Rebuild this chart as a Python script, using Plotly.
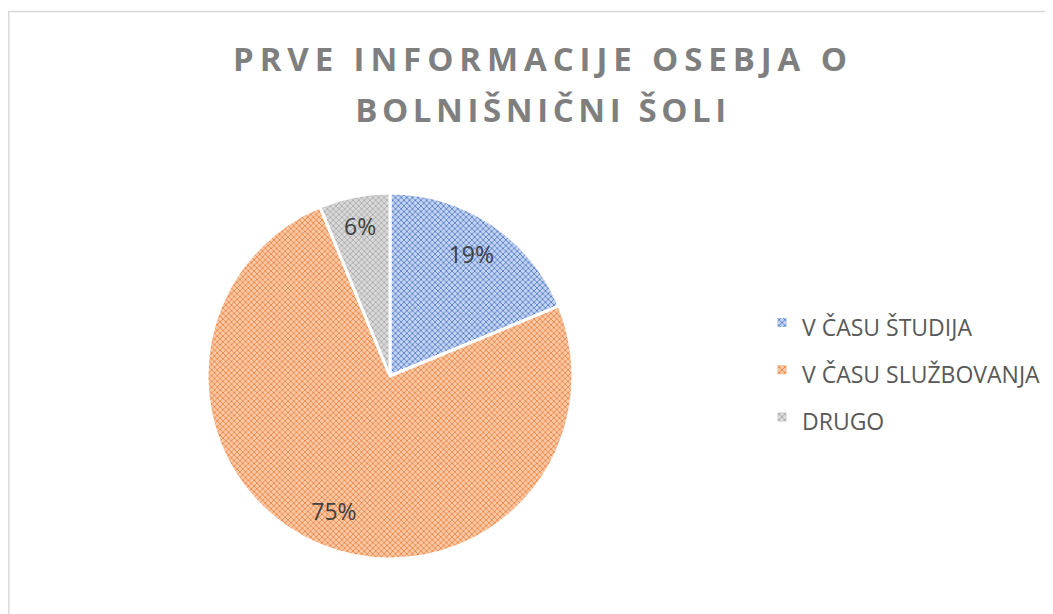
import plotly.graph_objects as go

# ---- data ----
categories = ["V ČASU ŠTUDIJA", "V ČASU SLUŽBOVANJA", "DRUGO"]
shares = [18.75, 75.0, 6.25]
title_lines = ["PRVE INFORMACIJE OSEBJA O", "BOLNIŠNIČNI ŠOLI"]

# ---- style ----
slice_colors = ["#4472C4", "#ED7D31", "#A5A5A5"]
slice_tints = ["#c5d4f0", "#f8c9a9", "#d9d9d9"]

W, H = 1053, 614
cx, cy, r = 382, 368, 183
dom_x = [(cx - r) / W, (cx + r) / W]
dom_y = [(H - cy - r) / H, (H - cy + r) / H]


def span(t, size, extra=""):
    return f'<span style="font-size:{size}px;{extra}">{t}</span>'


legend_labels = [span(c, 23) for c in categories]
title_text = (span(title_lines[0], 33, "letter-spacing:5.9px") + "<br>"
              + span(title_lines[1], 33, "letter-spacing:4.6px"))

fig = go.Figure()
fig.add_trace(go.Pie(
    labels=legend_labels,
    values=shares,
    sort=False,
    direction="clockwise",
    rotation=0,
    domain=dict(x=dom_x, y=dom_y),
    marker=dict(
        colors=slice_tints,
        line=dict(color="white", width=3),
        pattern=dict(shape=["x", "x", "x"], fgcolor=slice_colors,
                     bgcolor=slice_tints, size=4, solidity=0.35,
                     fillmode="replace"),
    ),
    textinfo="none",
    hoverinfo="skip",
))
fig.add_trace(go.Pie(
    labels=legend_labels,
    values=shares,
    sort=False,
    direction="clockwise",
    rotation=0,
    hole=0.6,
    domain=dict(x=dom_x, y=dom_y),
    marker=dict(colors=["rgba(0,0,0,0)"] * 3, line=dict(width=0)),
    texttemplate="%{percent:.0%}",
    textposition="inside",
    insidetextorientation="horizontal",
    textfont=dict(family="Open Sans", size=23, color="#404040"),
    showlegend=False,
    hoverinfo="skip",
))

fig.update_layout(
    width=W, height=H,
    margin=dict(l=0, r=0, t=0, b=0),
    paper_bgcolor="white",
    plot_bgcolor="white",
    title=dict(
        text=title_text,
        x=535 / W, xanchor="center",
        y=1 - 63 / H, yanchor="top",
        font=dict(family="Open Sans", size=39, color="#7f7f7f", weight="bold"),
    ),
    legend=dict(
        x=754 / W, xanchor="left",
        y=1 - 286 / H, yanchor="top",
        font=dict(family="Open Sans", size=34, color="#595959"),
        bgcolor="rgba(0,0,0,0)",
    ),
    shapes=[dict(type="rect", xref="paper", yref="paper",
                 x0=0.8 / W, x1=1.02, y0=-0.02, y1=1 - 3.5 / H,
                 line=dict(color="#d9d9d9", width=1.5), layer="below")],
)

fig.write_html("out.html")
